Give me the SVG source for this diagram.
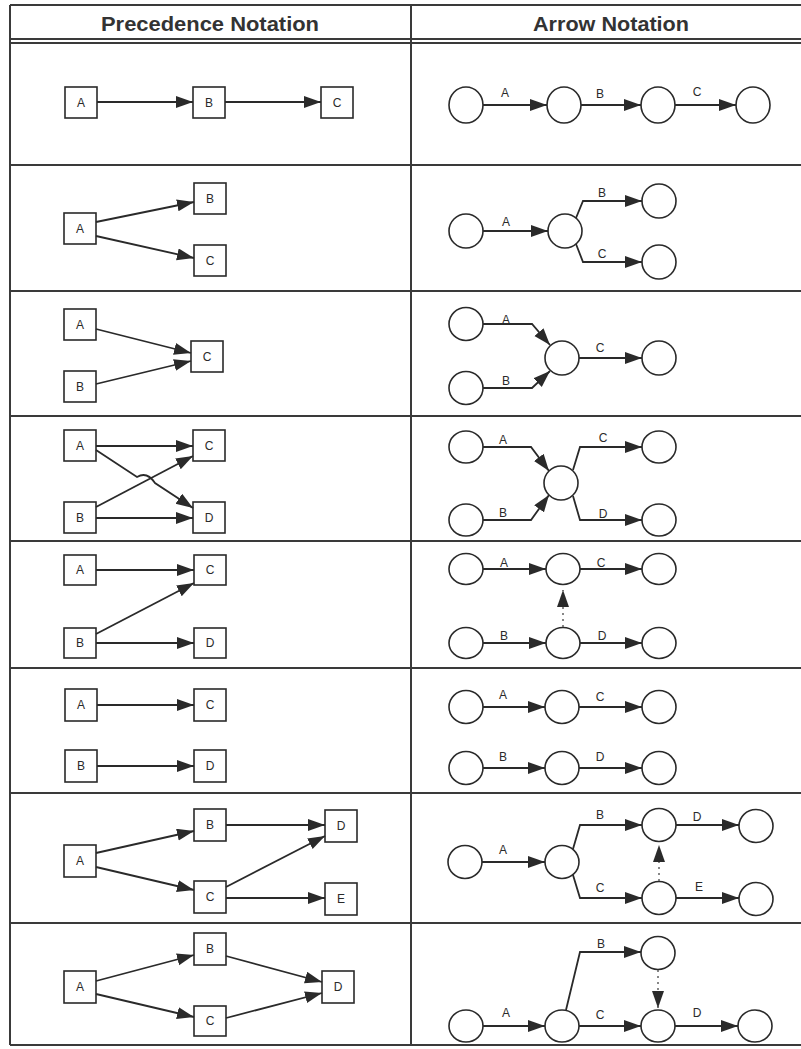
<svg xmlns="http://www.w3.org/2000/svg" width="801" height="1049" viewBox="0 0 801 1049">
<defs>
<marker id="arr" markerUnits="userSpaceOnUse" markerWidth="18" markerHeight="13" refX="17" refY="6" orient="auto">
<path d="M0,0 L17,6 L0,12 z" fill="#2a2a2a"/>
</marker>
<style>
.tbl{stroke:#3a3a3a;stroke-width:2;fill:none}
.hd{font-family:"Liberation Sans",Arial,sans-serif;font-size:21px;font-weight:bold;fill:#333;text-anchor:middle}
.bx rect{fill:#fff;stroke:#2a2a2a;stroke-width:1.6}
.bx text,.lb{font-family:"Liberation Sans",Arial,sans-serif;font-size:12px;fill:#2a2a2a;text-anchor:middle}
.cn ellipse{fill:#fff;stroke:#2a2a2a;stroke-width:1.6}
.e{stroke:#2a2a2a;stroke-width:1.8;fill:none;marker-end:url(#arr)}
.d{stroke:#555;stroke-width:1.4;fill:none;stroke-dasharray:2,4;marker-end:url(#arr)}
</style>
</defs>
<rect width="801" height="1049" fill="#fff"/>
<g id="table">
<path class="tbl" d="M10,5 H801 M10,39 H801 M10,43 H801 M10,165 H801 M10,291 H801 M10,416 H801 M10,541 H801 M10,668 H801 M10,793 H801 M10,923 H801 M10,1045 H801 M10,5 V1045 M411,5 V1045"/>
<text class="hd" x="210" y="31" textLength="218" lengthAdjust="spacingAndGlyphs">Precedence Notation</text>
<text class="hd" x="611" y="31" textLength="156" lengthAdjust="spacingAndGlyphs">Arrow Notation</text>
</g>

<!-- Row 1 -->
<g id="r1-pA" class="bx"><rect x="65" y="87" width="32" height="31"/><text x="81" y="107">A</text></g>
<g id="r1-pB" class="bx"><rect x="193" y="87" width="32" height="31"/><text x="209" y="107">B</text></g>
<g id="r1-pC" class="bx"><rect x="321" y="87" width="32" height="31"/><text x="337" y="107">C</text></g>
<g id="r1-n1" class="cn"><ellipse cx="466" cy="105" rx="17" ry="18"/></g>
<g id="r1-n2" class="cn"><ellipse cx="564" cy="105" rx="17" ry="18"/></g>
<g id="r1-n3" class="cn"><ellipse cx="658" cy="105" rx="17" ry="18"/></g>
<g id="r1-n4" class="cn"><ellipse cx="753" cy="105" rx="17" ry="18"/></g>

<!-- Row 2 -->
<g id="r2-pA" class="bx"><rect x="64" y="213" width="32" height="31"/><text x="80" y="233">A</text></g>
<g id="r2-pB" class="bx"><rect x="194" y="183" width="32" height="31"/><text x="210" y="203">B</text></g>
<g id="r2-pC" class="bx"><rect x="194" y="245" width="32" height="31"/><text x="210" y="265">C</text></g>
<g id="r2-n1" class="cn"><ellipse cx="466" cy="231" rx="17" ry="17"/></g>
<g id="r2-n2" class="cn"><ellipse cx="565" cy="231" rx="17" ry="17"/></g>
<g id="r2-n3" class="cn"><ellipse cx="659" cy="201" rx="17" ry="17"/></g>
<g id="r2-n4" class="cn"><ellipse cx="659" cy="262" rx="17" ry="17"/></g>

<!-- Row 3 -->
<g id="r3-pA" class="bx"><rect x="64" y="309" width="32" height="31"/><text x="80" y="329">A</text></g>
<g id="r3-pB" class="bx"><rect x="64" y="371" width="32" height="31"/><text x="80" y="391">B</text></g>
<g id="r3-pC" class="bx"><rect x="191" y="341" width="32" height="31"/><text x="207" y="361">C</text></g>
<g id="r3-n1" class="cn"><ellipse cx="466" cy="324" rx="17" ry="16.5"/></g>
<g id="r3-n2" class="cn"><ellipse cx="466" cy="388" rx="17" ry="16.5"/></g>
<g id="r3-n3" class="cn"><ellipse cx="562" cy="358" rx="17" ry="17"/></g>
<g id="r3-n4" class="cn"><ellipse cx="659" cy="358" rx="17" ry="17"/></g>

<!-- Row 4 -->
<g id="r4-pA" class="bx"><rect x="64" y="430" width="32" height="31"/><text x="80" y="450">A</text></g>
<g id="r4-pC" class="bx"><rect x="193" y="430" width="32" height="31"/><text x="209" y="450">C</text></g>
<g id="r4-pB" class="bx"><rect x="64" y="502" width="32" height="31"/><text x="80" y="522">B</text></g>
<g id="r4-pD" class="bx"><rect x="193" y="502" width="32" height="31"/><text x="209" y="522">D</text></g>
<g id="r4-n1" class="cn"><ellipse cx="466" cy="447" rx="17" ry="16"/></g>
<g id="r4-n2" class="cn"><ellipse cx="466" cy="520" rx="17" ry="16"/></g>
<g id="r4-n3" class="cn"><ellipse cx="561" cy="483" rx="17" ry="17"/></g>
<g id="r4-n4" class="cn"><ellipse cx="659" cy="447" rx="17" ry="16"/></g>
<g id="r4-n5" class="cn"><ellipse cx="659" cy="520" rx="17" ry="16"/></g>

<!-- Row 5 -->
<g id="r5-pA" class="bx"><rect x="64" y="555" width="32" height="30"/><text x="80" y="574">A</text></g>
<g id="r5-pC" class="bx"><rect x="194" y="555" width="32" height="30"/><text x="210" y="574">C</text></g>
<g id="r5-pB" class="bx"><rect x="64" y="628" width="32" height="30"/><text x="80" y="647">B</text></g>
<g id="r5-pD" class="bx"><rect x="194" y="628" width="32" height="30"/><text x="210" y="647">D</text></g>
<g id="r5-n1" class="cn"><ellipse cx="466" cy="569" rx="17" ry="15.5"/></g>
<g id="r5-n2" class="cn"><ellipse cx="563" cy="569" rx="17" ry="15.5"/></g>
<g id="r5-n3" class="cn"><ellipse cx="659" cy="569" rx="17" ry="15.5"/></g>
<g id="r5-n4" class="cn"><ellipse cx="466" cy="643" rx="17" ry="15.5"/></g>
<g id="r5-n5" class="cn"><ellipse cx="563" cy="643" rx="17" ry="15.5"/></g>
<g id="r5-n6" class="cn"><ellipse cx="659" cy="643" rx="17" ry="15.5"/></g>

<!-- Row 6 -->
<g id="r6-pA" class="bx"><rect x="65" y="689" width="32" height="32"/><text x="81" y="709">A</text></g>
<g id="r6-pC" class="bx"><rect x="194" y="689" width="32" height="32"/><text x="210" y="709">C</text></g>
<g id="r6-pB" class="bx"><rect x="65" y="750" width="32" height="32"/><text x="81" y="770">B</text></g>
<g id="r6-pD" class="bx"><rect x="194" y="750" width="32" height="32"/><text x="210" y="770">D</text></g>
<g id="r6-n1" class="cn"><ellipse cx="466" cy="707" rx="17" ry="16.5"/></g>
<g id="r6-n2" class="cn"><ellipse cx="562" cy="707" rx="17" ry="16.5"/></g>
<g id="r6-n3" class="cn"><ellipse cx="659" cy="707" rx="17" ry="16.5"/></g>
<g id="r6-n4" class="cn"><ellipse cx="466" cy="768" rx="17" ry="16.5"/></g>
<g id="r6-n5" class="cn"><ellipse cx="562" cy="768" rx="17" ry="16.5"/></g>
<g id="r6-n6" class="cn"><ellipse cx="659" cy="768" rx="17" ry="16.5"/></g>

<!-- Row 7 -->
<g id="r7-pA" class="bx"><rect x="64" y="845" width="32" height="32"/><text x="80" y="865">A</text></g>
<g id="r7-pB" class="bx"><rect x="194" y="809" width="32" height="32"/><text x="210" y="829">B</text></g>
<g id="r7-pC" class="bx"><rect x="194" y="881" width="32" height="32"/><text x="210" y="901">C</text></g>
<g id="r7-pD" class="bx"><rect x="325" y="810" width="32" height="32"/><text x="341" y="830">D</text></g>
<g id="r7-pE" class="bx"><rect x="325" y="883" width="32" height="32"/><text x="341" y="903">E</text></g>
<g id="r7-n1" class="cn"><ellipse cx="465" cy="862" rx="17" ry="16.5"/></g>
<g id="r7-n2" class="cn"><ellipse cx="562" cy="862" rx="17" ry="16.5"/></g>
<g id="r7-n3" class="cn"><ellipse cx="659" cy="825" rx="17" ry="16.5"/></g>
<g id="r7-n4" class="cn"><ellipse cx="756" cy="826" rx="17" ry="16.5"/></g>
<g id="r7-n5" class="cn"><ellipse cx="659" cy="898" rx="17" ry="16.5"/></g>
<g id="r7-n6" class="cn"><ellipse cx="756" cy="899" rx="17" ry="16.5"/></g>

<!-- Row 8 -->
<g id="r8-pA" class="bx"><rect x="64" y="971" width="32" height="32"/><text x="80" y="991">A</text></g>
<g id="r8-pB" class="bx"><rect x="194" y="933" width="32" height="32"/><text x="210" y="953">B</text></g>
<g id="r8-pC" class="bx"><rect x="194" y="1006" width="32" height="30"/><text x="210" y="1025">C</text></g>
<g id="r8-pD" class="bx"><rect x="322" y="971" width="32" height="32"/><text x="338" y="991">D</text></g>
<g id="r8-n1" class="cn"><ellipse cx="466" cy="1026" rx="17" ry="16"/></g>
<g id="r8-n2" class="cn"><ellipse cx="562" cy="1026" rx="17" ry="16"/></g>
<g id="r8-n3" class="cn"><ellipse cx="658" cy="953" rx="17" ry="16.5"/></g>
<g id="r8-n4" class="cn"><ellipse cx="658" cy="1026" rx="17" ry="16"/></g>
<g id="r8-n5" class="cn"><ellipse cx="755" cy="1026" rx="17" ry="16"/></g>

<g id="connectors">
<!-- row 1 -->
<path class="e" d="M97,102 L193,102"/>
<path class="e" d="M225,102 L321,102"/>
<path class="e" d="M483,105 L547,105"/>
<path class="e" d="M581,105 L641,105"/>
<path class="e" d="M675,105 L736,105"/>
<!-- row 2 -->
<path class="e" d="M96,222 L194,202"/>
<path class="e" d="M96,236 L194,258"/>
<path class="e" d="M483,231 L548,231"/>
<path class="e" d="M576,218 L583,201 L642,201"/>
<path class="e" d="M576,244 L583,262 L642,262"/>
<!-- row 3 -->
<path class="e" d="M96,329 L191,353"/>
<path class="e" d="M96,384 L191,361"/>
<path class="e" d="M483,324 L532,324 L550,345"/>
<path class="e" d="M483,388 L532,388 L550,371"/>
<path class="e" d="M579,358 L642,358"/>
<!-- row 4 -->
<path class="e" d="M96,446 L193,446"/>
<path class="e" d="M96,518 L193,518"/>
<path class="e" d="M96,450 L137,477 Q147,471 155,483 L193,508"/>
<path class="e" d="M96,507 L193,456"/>
<path class="e" d="M483,447 L531,447 L549,471"/>
<path class="e" d="M483,520 L531,520 L549,495"/>
<path class="e" d="M573,470 L580,447 L642,447"/>
<path class="e" d="M573,496 L580,520 L642,520"/>
<!-- row 5 -->
<path class="e" d="M96,570 L194,570"/>
<path class="e" d="M96,643 L194,643"/>
<path class="e" d="M96,634 L194,583"/>
<path class="e" d="M483,569 L546,569"/>
<path class="e" d="M580,569 L642,569"/>
<path class="e" d="M483,643 L546,643"/>
<path class="e" d="M580,643 L642,643"/>
<path class="d" d="M563,627 L563,590"/>
<!-- row 6 -->
<path class="e" d="M97,705 L194,705"/>
<path class="e" d="M97,766 L194,766"/>
<path class="e" d="M483,707 L545,707"/>
<path class="e" d="M579,707 L642,707"/>
<path class="e" d="M483,768 L545,768"/>
<path class="e" d="M579,768 L642,768"/>
<!-- row 7 -->
<path class="e" d="M96,853 L194,831"/>
<path class="e" d="M96,867 L194,890"/>
<path class="e" d="M226,825 L325,825"/>
<path class="e" d="M226,887 L325,836"/>
<path class="e" d="M226,898 L325,898"/>
<path class="e" d="M482,862 L545,862"/>
<path class="e" d="M573,849 L580,825 L642,825"/>
<path class="e" d="M573,875 L580,898 L642,898"/>
<path class="e" d="M676,825 L739,825"/>
<path class="e" d="M676,898 L739,898"/>
<path class="d" d="M659,881 L659,845"/>
<!-- row 8 -->
<path class="e" d="M96,981 L194,955"/>
<path class="e" d="M96,994 L194,1017"/>
<path class="e" d="M226,956 L322,982"/>
<path class="e" d="M226,1018 L322,993"/>
<path class="e" d="M483,1026 L545,1026"/>
<path class="e" d="M566,1010 L580,952 L641,952"/>
<path class="e" d="M579,1026 L641,1026"/>
<path class="e" d="M675,1026 L738,1026"/>
<path class="d" d="M658,970 L658,1008"/>
</g>

<g id="labels">
<text class="lb" x="505" y="97">A</text>
<text class="lb" x="600" y="98">B</text>
<text class="lb" x="697" y="96">C</text>
<text class="lb" x="506" y="226">A</text>
<text class="lb" x="602" y="197">B</text>
<text class="lb" x="602" y="258">C</text>
<text class="lb" x="506" y="324">A</text>
<text class="lb" x="506" y="385">B</text>
<text class="lb" x="600" y="352">C</text>
<text class="lb" x="503" y="444">A</text>
<text class="lb" x="603" y="442">C</text>
<text class="lb" x="503" y="517">B</text>
<text class="lb" x="603" y="518">D</text>
<text class="lb" x="504" y="567">A</text>
<text class="lb" x="601" y="567">C</text>
<text class="lb" x="504" y="640">B</text>
<text class="lb" x="602" y="640">D</text>
<text class="lb" x="503" y="699">A</text>
<text class="lb" x="600" y="701">C</text>
<text class="lb" x="503" y="761">B</text>
<text class="lb" x="600" y="761">D</text>
<text class="lb" x="503" y="854">A</text>
<text class="lb" x="600" y="819">B</text>
<text class="lb" x="697" y="821">D</text>
<text class="lb" x="600" y="892">C</text>
<text class="lb" x="699" y="891">E</text>
<text class="lb" x="601" y="948">B</text>
<text class="lb" x="506" y="1017">A</text>
<text class="lb" x="600" y="1019">C</text>
<text class="lb" x="697" y="1017">D</text>
</g>
</svg>
